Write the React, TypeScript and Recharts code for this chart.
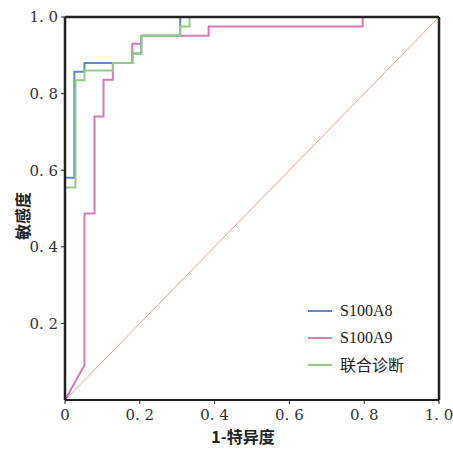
import {
  LineChart,
  Line,
  XAxis,
  YAxis,
  ReferenceLine,
} from "recharts";

// ROC curve vertices (1-specificity, sensitivity)
const s100a8Fpr = [0, 0, 0.025, 0.025, 0.052, 0.052, 0.126, 0.18, 0.18, 0.204, 0.204, 0.308, 0.308, 1];
const s100a8Tpr = [0, 0.58, 0.58, 0.857, 0.857, 0.88, 0.88, 0.88, 0.905, 0.905, 0.951, 0.951, 1, 1];

const s100a9Fpr = [0, 0.052, 0.052, 0.079, 0.079, 0.103, 0.103, 0.128, 0.128, 0.18, 0.18, 0.204, 0.204, 0.384, 0.384, 0.796, 0.796, 1];
const s100a9Tpr = [0, 0.091, 0.487, 0.487, 0.74, 0.74, 0.836, 0.836, 0.88, 0.88, 0.93, 0.93, 0.951, 0.951, 0.975, 0.975, 1, 1];

const comboFpr = [0, 0, 0.028, 0.028, 0.052, 0.052, 0.128, 0.128, 0.18, 0.18, 0.204, 0.204, 0.308, 0.308, 0.333, 0.333, 1];
const comboTpr = [0, 0.555, 0.555, 0.835, 0.835, 0.86, 0.86, 0.88, 0.88, 0.905, 0.905, 0.951, 0.951, 0.975, 0.975, 1, 1];

const refFpr = [0, 1];
const refTpr = [0, 1];

const xTicks = [0, 0.2, 0.4, 0.6, 0.8, 1];
const yTicks = [0.2, 0.4, 0.6, 0.8, 1];

const seriesNames = ["S100A8", "S100A9", "联合诊断"];
const seriesColors = ["#5b8ad0", "#d47ab8", "#95cb82"];

const toPoints = (xs: number[], ys: number[]) => xs.map((x, i) => ({ fpr: x, tpr: ys[i] }));

const fmt = (v: number) => (v === 0 ? "0" : v.toFixed(1).replace(".", ". "));

const serif = "'DejaVu Serif', 'Liberation Serif', serif";
const cjk = "'Noto Sans CJK SC', sans-serif";

const YLabel = () => (
  <text
    x={22}
    y={216}
    transform="rotate(-90, 22, 216)"
    textAnchor="middle"
    dominantBaseline="central"
    fill="#222"
    fontSize={16}
    fontWeight={600}
    fontFamily={cjk}
  >
    敏感度
  </text>
);

const XLabel = () => (
  <text x={243} y={436} textAnchor="middle" dominantBaseline="central" fill="#222" fontSize={16} fontWeight={600} fontFamily={cjk}>
    1-特异度
  </text>
);

export default function App() {
  const series = [
    { name: seriesNames[1], color: seriesColors[1], data: toPoints(s100a9Fpr, s100a9Tpr) },
    { name: seriesNames[0], color: seriesColors[0], data: toPoints(s100a8Fpr, s100a8Tpr) },
    { name: seriesNames[2], color: seriesColors[2], data: toPoints(comboFpr, comboTpr) },
  ];
  return (
    <div style={{ position: "fixed", left: 0, top: 0, background: "#fff", width: 453, height: 449 }}>
      <LineChart width={453} height={449} margin={{ top: 17, right: 14, left: 0, bottom: 0 }}>
        <XAxis
          type="number"
          dataKey="fpr"
          domain={[0, 1]}
          ticks={xTicks}
          tickFormatter={fmt}
          height={49}
          allowDuplicatedCategory={false}
          axisLine={{ stroke: "#222", strokeWidth: 2 }}
          tickLine={{ stroke: "#222" }}
          tickSize={4}
          tickMargin={5}
          tick={{ fill: "#333", fontSize: 15, fontFamily: serif }}
          label={<XLabel />}
        />
        <YAxis
          type="number"
          dataKey="tpr"
          domain={[0, 1]}
          ticks={yTicks}
          tickFormatter={fmt}
          width={65}
          axisLine={{ stroke: "#222", strokeWidth: 2 }}
          tickLine={{ stroke: "#222" }}
          tickSize={4}
          tickMargin={3}
          tick={{ fill: "#333", fontSize: 15, fontFamily: serif }}
          label={<YLabel />}
        />
        <Line
          data={toPoints(refFpr, refTpr)}
          dataKey="tpr"
          type="linear"
          stroke="#eea08e"
          strokeWidth={1}
          dot={false}
          legendType="none"
          isAnimationActive={false}
        />
        {series.map((s) => (
          <Line
            key={s.name}
            name={s.name}
            data={s.data}
            dataKey="tpr"
            type="linear"
            stroke={s.color}
            strokeWidth={2}
            dot={false}
            isAnimationActive={false}
          />
        ))}
        <ReferenceLine y={1} stroke="#222" strokeWidth={2.5} zIndex={1000} />
        <ReferenceLine x={1} stroke="#222" strokeWidth={2.5} zIndex={1000} />
        <ReferenceLine x={0} stroke="#222" strokeWidth={2.5} zIndex={1000} />
      </LineChart>
      <div style={{ position: "absolute", left: 308, top: 297, fontSize: 16, color: "#222", lineHeight: "27px" }}>
        {seriesNames.map((n, i) => (
          <div key={n} style={{ display: "flex", alignItems: "center", height: 27 }}>
            <span style={{ display: "inline-block", width: 24, height: 2, background: seriesColors[i], marginRight: 8 }} />
            <span style={{ fontFamily: i === 2 ? cjk : "'Liberation Serif', serif" }}>{n}</span>
          </div>
        ))}
      </div>
    </div>
  );
}
